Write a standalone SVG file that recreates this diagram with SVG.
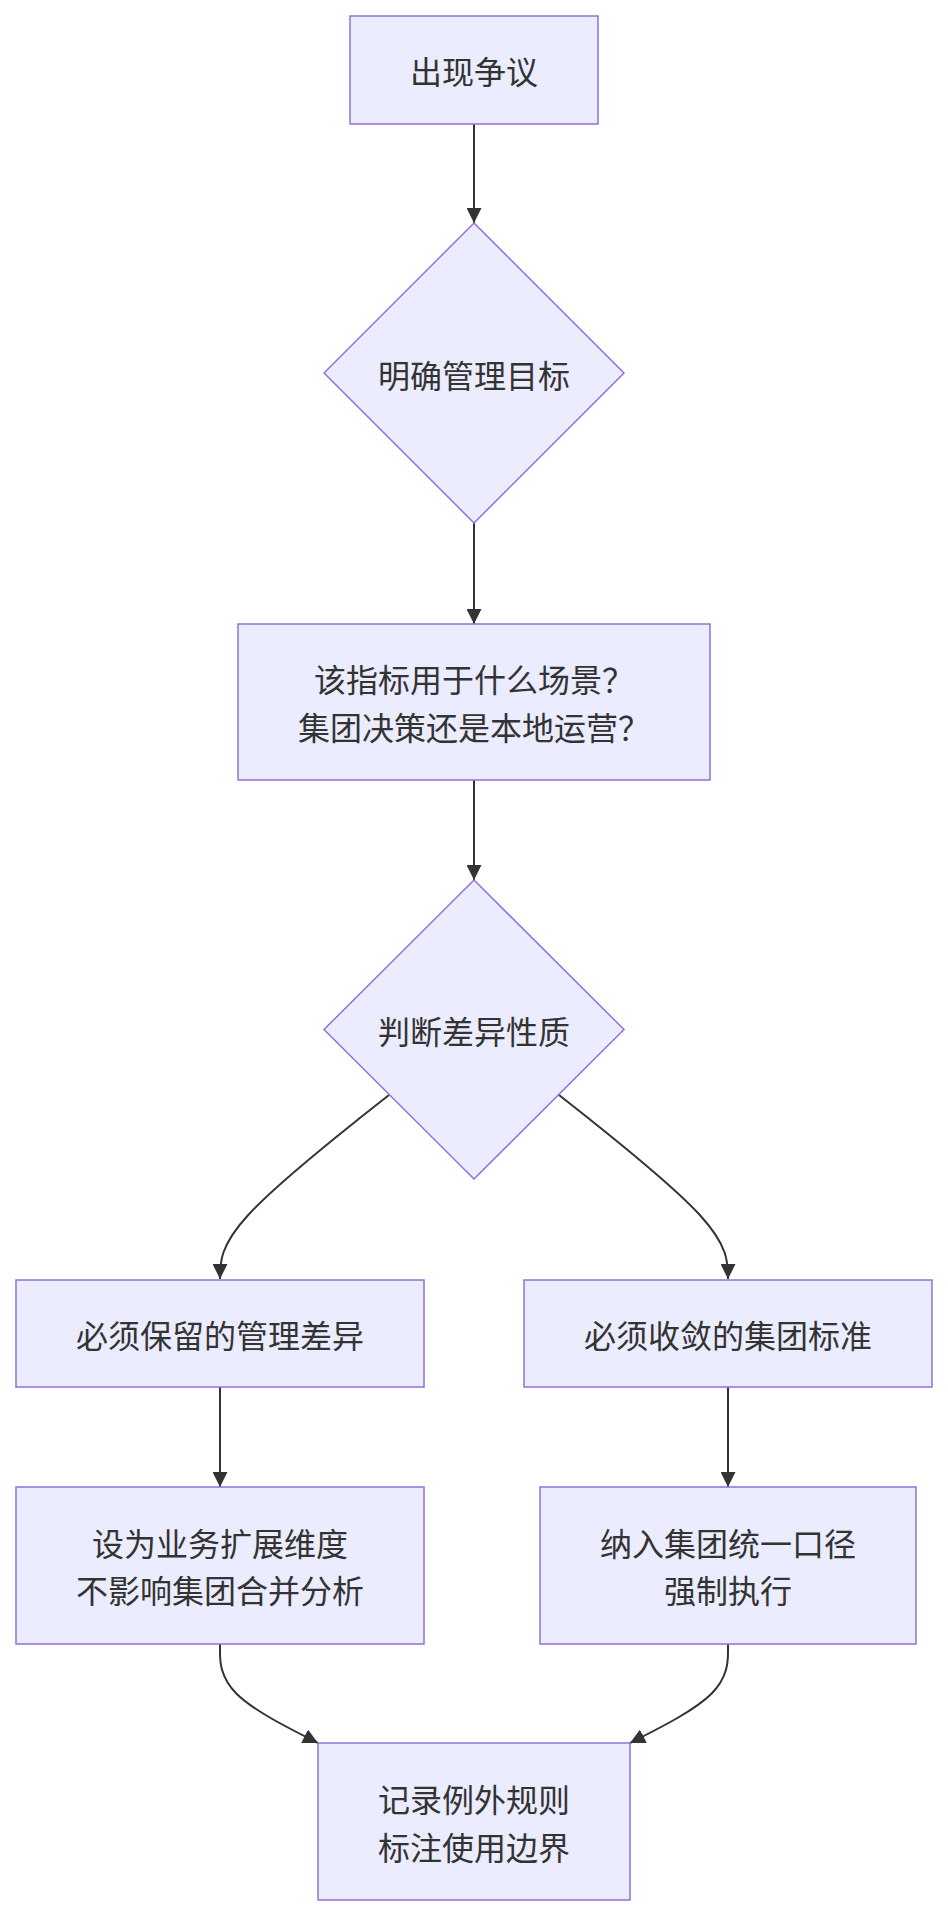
<svg xmlns="http://www.w3.org/2000/svg" width="948" height="1916" viewBox="0 0 948 1916">
  <style>
    .node rect, .node polygon { fill: #ECECFF; stroke: #9370DB; stroke-width: 1.5; }
    .node text { font-family: "Noto Sans CJK SC", "Noto Sans", "Liberation Sans", sans-serif; font-size: 32px; fill: #333333; text-anchor: middle; dominant-baseline: central; }
    .edges path { fill: none; stroke: #333333; stroke-width: 2; }
  </style>
  <defs>
    <marker id="arrow" viewBox="0 0 10 10" refX="10" refY="5" markerUnits="userSpaceOnUse" markerWidth="15" markerHeight="15" orient="auto">
      <path d="M0,0 L10,5 L0,10 z" fill="#333333"/>
    </marker>
  </defs>
  <rect width="948" height="1916" fill="#ffffff"/>

  <g class="edges">
    <path d="M474,124 L474,223" marker-end="url(#arrow)"/>
    <path d="M474,523 L474,624" marker-end="url(#arrow)"/>
    <path d="M474,780 L474,880" marker-end="url(#arrow)"/>
    <path d="M389,1095 L360.8,1117.3 C332.7,1139.7 276.3,1184.3 248.2,1215 C220,1245.7 220,1262.3 220,1279" marker-end="url(#arrow)"/>
    <path d="M559,1095 L587.2,1117.3 C615.3,1139.7 671.7,1184.3 699.8,1215 C728,1245.7 728,1262.3 728,1279" marker-end="url(#arrow)"/>
    <path d="M220,1387 L220,1487" marker-end="url(#arrow)"/>
    <path d="M728,1387 L728,1487" marker-end="url(#arrow)"/>
    <path d="M220,1644 L220,1652.3 C220,1660.5 220,1677 236.3,1693.5 C252.7,1710 285.3,1726.5 318,1743" marker-end="url(#arrow)"/>
    <path d="M728,1644 L728,1652.3 C728,1660.5 728,1677 711.7,1693.5 C695.3,1710 662.7,1726.5 630,1743" marker-end="url(#arrow)"/>
  </g>

  <g id="n1" class="node">
    <rect x="350" y="16" width="248" height="108"/>
    <text x="474" y="70">出现争议</text>
  </g>
  <g id="n2" class="node">
    <polygon points="474,223 624,373 474,523 324,373"/>
    <text x="474" y="374">明确管理目标</text>
  </g>
  <g id="n3" class="node">
    <rect x="238" y="624" width="472" height="156"/>
    <text x="474" y="678">该指标用于什么场景？</text>
    <text x="474" y="726">集团决策还是本地运营？</text>
  </g>
  <g id="n4" class="node">
    <polygon points="474,880 624,1029.5 474,1179 324,1029.5"/>
    <text x="474" y="1030">判断差异性质</text>
  </g>
  <g id="n5" class="node">
    <rect x="16" y="1280" width="408" height="107"/>
    <text x="220" y="1334">必须保留的管理差异</text>
  </g>
  <g id="n6" class="node">
    <rect x="524" y="1280" width="408" height="107"/>
    <text x="728" y="1334">必须收敛的集团标准</text>
  </g>
  <g id="n7" class="node">
    <rect x="16" y="1487" width="408" height="157"/>
    <text x="220" y="1542">设为业务扩展维度</text>
    <text x="220" y="1589">不影响集团合并分析</text>
  </g>
  <g id="n8" class="node">
    <rect x="540" y="1487" width="376" height="157"/>
    <text x="728" y="1542">纳入集团统一口径</text>
    <text x="728" y="1589">强制执行</text>
  </g>
  <g id="n9" class="node">
    <rect x="318" y="1743" width="312" height="157"/>
    <text x="474" y="1798">记录例外规则</text>
    <text x="474" y="1846">标注使用边界</text>
  </g>
</svg>
